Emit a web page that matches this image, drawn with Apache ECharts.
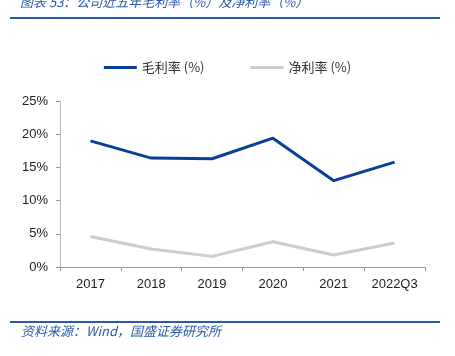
<!DOCTYPE html>
<html><head><meta charset="utf-8">
<script src="https://cdn.jsdelivr.net/npm/echarts@6/dist/echarts.min.js"></script>
<style>html,body{margin:0;padding:0;background:#fff}#c{width:455px;height:356px}</style>
</head><body><div id="c"></div>
<script>
const categories = ['2017','2018','2019','2020','2021','2022Q3'];
const grossMargin = [19.0, 16.4, 16.3, 19.4, 13.0, 15.8];
const netMargin = [4.6, 2.7, 1.6, 3.8, 1.8, 3.6];
const yTicks = [0, 5, 10, 15, 20, 25];
const titleText = '图表 53：公司近五年毛利率（%）及净利率（%）';
const sourceText = '资料来源：Wind，国盛证券研究所';

const chart = echarts.init(document.getElementById('c'));
const cn = '"Noto Sans CJK SC", sans-serif';
const lat = '"Liberation Sans", Arial, sans-serif';
chart.setOption({
  animation: false,
  legend: {
    top: 56, left: 'center', itemGap: 46, itemWidth: 33, itemHeight: 3,
    icon: 'rect',
    textStyle: {fontFamily: cn, fontSize: 13, color: '#333'},
    data: ['毛利率 (%)', '净利率 (%)']
  },
  grid: {left: 60, right: 30, top: 101, bottom: 89},
  xAxis: {
    type: 'category', data: categories, boundaryGap: true,
    axisLine: {lineStyle: {color: '#999'}},
    axisTick: {show: true, alignWithLabel: false, length: 4, lineStyle: {color: '#999'}},
    axisLabel: {interval: 0, color: '#222', fontSize: 13, margin: 11, fontFamily: lat}
  },
  yAxis: {
    type: 'value', min: yTicks[0], max: yTicks[yTicks.length-1], interval: 5,
    axisLine: {show: true, lineStyle: {color: '#bbb'}},
    axisTick: {show: true, inside: false, length: 4, lineStyle: {color: '#999'}},
    splitLine: {show: false},
    axisLabel: {color: '#222', fontSize: 13, margin: 12, formatter: '{value}%', fontFamily: lat}
  },
  series: [
    {name: '毛利率 (%)', type: 'line', data: grossMargin, symbol: 'none',
     lineStyle: {color: '#0a3f99', width: 3}, itemStyle: {color: '#0a3f99'}},
    {name: '净利率 (%)', type: 'line', data: netMargin, symbol: 'none',
     lineStyle: {color: '#cccccc', width: 3}, itemStyle: {color: '#cccccc'}}
  ],
  graphic: [
    {type: 'text', left: 20, top: -4, style: {text: titleText, fill: '#2a5aa8', font: 'italic 13px ' + cn}},
    {type: 'rect', shape: {x: 10, y: 17, width: 430, height: 2}, style: {fill: '#2a5aa8'}},
    {type: 'rect', shape: {x: 10, y: 321, width: 430, height: 2}, style: {fill: '#2a5aa8'}},
    {type: 'text', left: 21, top: 325, style: {text: sourceText, fill: '#2a5aa8', font: 'italic 13px ' + cn}}
  ]
});
</script></body></html>
